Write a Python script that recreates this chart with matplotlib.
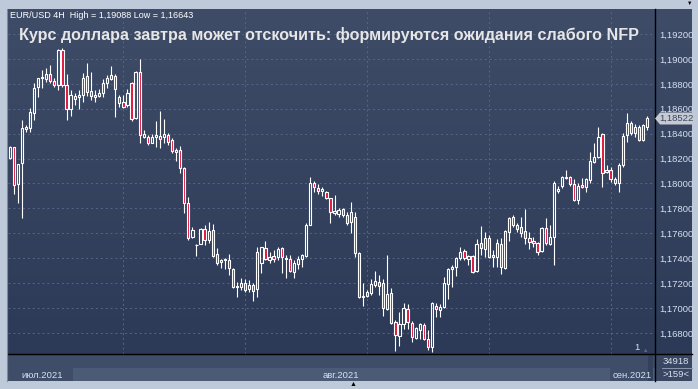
import numpy as np
import matplotlib
matplotlib.use("Agg")
import matplotlib.pyplot as plt
from matplotlib.patches import Rectangle, Polygon

plt.rcParams["font.family"] = ["Liberation Sans", "DejaVu Sans"]

# EUR/USD 4H candles
opens = [
    1.18201, 1.18289, 1.17994, 1.18166, 1.18434, 1.18442, 1.18562, 1.18771, 1.18844, 1.18836,
    1.18879, 1.18822, 1.18790, 1.19072, 1.18788, 1.18595, 1.18675, 1.18691, 1.18710, 1.18863,
    1.18742, 1.18710, 1.18704, 1.18723, 1.18809, 1.18836, 1.18863, 1.18697, 1.18651, 1.18630,
    1.18804, 1.18523, 1.18898, 1.18375, 1.18369, 1.18327, 1.18369, 1.18377, 1.18369, 1.18388,
    1.18348, 1.18254, 1.18268, 1.18120, 1.17839, 1.17571, 1.17504, 1.17517, 1.17630, 1.17549,
    1.17624, 1.17431, 1.17370, 1.17383, 1.17383, 1.17316, 1.17165, 1.17165, 1.17202, 1.17149,
    1.17183, 1.17149, 1.17363, 1.17478, 1.17384, 1.17417, 1.17406, 1.17478, 1.17403, 1.17390,
    1.17291, 1.17352, 1.17390, 1.17417, 1.17666, 1.18001, 1.17961, 1.17942, 1.17934, 1.17880,
    1.17760, 1.17754, 1.17792, 1.17746, 1.17693, 1.17727, 1.17443, 1.17090, 1.17098, 1.17122,
    1.17184, 1.17208, 1.17197, 1.16988, 1.17117, 1.16889, 1.16774, 1.16870, 1.16991, 1.16883,
    1.16755, 1.16822, 1.16862, 1.16747, 1.16688, 1.17015, 1.16983, 1.17004, 1.17192, 1.17310,
    1.17326, 1.17398, 1.17460, 1.17390, 1.17417, 1.17299, 1.17524, 1.17470, 1.17559, 1.17425,
    1.17411, 1.17513, 1.17317, 1.17607, 1.17727, 1.17666, 1.17647, 1.17618, 1.17559, 1.17540,
    1.17518, 1.17459, 1.17639, 1.17513, 1.17572, 1.17942, 1.17979, 1.18041, 1.18048, 1.17995,
    1.17866, 1.17987, 1.17968, 1.18027, 1.18174, 1.18209, 1.18394, 1.18094, 1.18107, 1.18032,
    1.18000, 1.18147, 1.18389, 1.18482, 1.18407, 1.18456, 1.18348, 1.18456,
]
highs = [
    1.18300, 1.18294, 1.18160, 1.18509, 1.18469, 1.18603, 1.18804, 1.18849, 1.18911, 1.18924,
    1.18951, 1.18844, 1.19080, 1.19088, 1.18879, 1.18750, 1.18723, 1.18750, 1.18884, 1.18970,
    1.18897, 1.18750, 1.18758, 1.18836, 1.18870, 1.18943, 1.18881, 1.18710, 1.18710, 1.18756,
    1.18817, 1.18906, 1.18997, 1.18428, 1.18388, 1.18396, 1.18501, 1.18581, 1.18517, 1.18407,
    1.18361, 1.18281, 1.18300, 1.18134, 1.17892, 1.17651, 1.17512, 1.17643, 1.17665, 1.17689,
    1.17673, 1.17485, 1.17397, 1.17402, 1.17431, 1.17322, 1.17210, 1.17237, 1.17229, 1.17224,
    1.17202, 1.17492, 1.17492, 1.17540, 1.17451, 1.17465, 1.17486, 1.17492, 1.17425, 1.17425,
    1.17384, 1.17417, 1.17433, 1.17679, 1.18054, 1.18022, 1.17995, 1.17974, 1.17942, 1.17886,
    1.17907, 1.17800, 1.17800, 1.17773, 1.17848, 1.17773, 1.17451, 1.17197, 1.17143, 1.17229,
    1.17296, 1.17264, 1.17229, 1.17425, 1.17157, 1.16902, 1.16969, 1.17036, 1.17031, 1.16897,
    1.16849, 1.16881, 1.16875, 1.16822, 1.17050, 1.17036, 1.17031, 1.17251, 1.17318, 1.17344,
    1.17411, 1.17492, 1.17470, 1.17425, 1.17425, 1.17551, 1.17658, 1.17612, 1.17585, 1.17465,
    1.17551, 1.17559, 1.17626, 1.17733, 1.17746, 1.17679, 1.17733, 1.17792, 1.17612, 1.17572,
    1.17532, 1.17652, 1.17719, 1.17666, 1.18022, 1.17979, 1.18060, 1.18108, 1.18059, 1.18032,
    1.18000, 1.18040, 1.18040, 1.18255, 1.18322, 1.18456, 1.18402, 1.18147, 1.18129, 1.18048,
    1.18161, 1.18402, 1.18568, 1.18504, 1.18477, 1.18469, 1.18477, 1.18541,
]
lows = [
    1.18193, 1.17914, 1.17839, 1.17724, 1.18412, 1.18415, 1.18509, 1.18696, 1.18763, 1.18817,
    1.18809, 1.18777, 1.18750, 1.18777, 1.18509, 1.18541, 1.18629, 1.18595, 1.18656, 1.18704,
    1.18670, 1.18656, 1.18691, 1.18696, 1.18763, 1.18830, 1.18536, 1.18616, 1.18603, 1.18616,
    1.18504, 1.18515, 1.18322, 1.18361, 1.18308, 1.18321, 1.18294, 1.18286, 1.18321, 1.18308,
    1.18241, 1.18182, 1.18080, 1.17764, 1.17549, 1.17565, 1.17418, 1.17512, 1.17504, 1.17523,
    1.17410, 1.17343, 1.17324, 1.17316, 1.17263, 1.17163, 1.17090, 1.17143, 1.17130, 1.17130,
    1.17058, 1.17090, 1.17277, 1.17384, 1.17363, 1.17371, 1.17384, 1.17277, 1.17237, 1.17291,
    1.17237, 1.17309, 1.17331, 1.17406, 1.17666, 1.17934, 1.17915, 1.17899, 1.17872, 1.17679,
    1.17746, 1.17733, 1.17733, 1.17666, 1.17604, 1.17411, 1.17076, 1.17015, 1.17090, 1.17103,
    1.17165, 1.17103, 1.16934, 1.16983, 1.16870, 1.16656, 1.16693, 1.16827, 1.16827, 1.16728,
    1.16747, 1.16747, 1.16741, 1.16666, 1.16643, 1.16924, 1.16929, 1.16996, 1.17068, 1.17165,
    1.17256, 1.17385, 1.17385, 1.17344, 1.17277, 1.17291, 1.17425, 1.17411, 1.17398, 1.17331,
    1.17325, 1.17272, 1.17309, 1.17540, 1.17652, 1.17612, 1.17572, 1.17513, 1.17470, 1.17492,
    1.17425, 1.17451, 1.17505, 1.17505, 1.17344, 1.17926, 1.17961, 1.18033, 1.17979, 1.17861,
    1.17834, 1.17960, 1.17933, 1.18005, 1.18161, 1.18201, 1.17968, 1.18086, 1.18013, 1.17987,
    1.17933, 1.18134, 1.18335, 1.18389, 1.18375, 1.18343, 1.18343, 1.18429,
]
closes = [
    1.18294, 1.17984, 1.18155, 1.18442, 1.18450, 1.18576, 1.18763, 1.18844, 1.18857, 1.18879,
    1.18820, 1.18788, 1.19072, 1.18790, 1.18595, 1.18710, 1.18702, 1.18710, 1.18844, 1.18731,
    1.18702, 1.18691, 1.18723, 1.18809, 1.18844, 1.18871, 1.18756, 1.18643, 1.18616, 1.18724,
    1.18515, 1.18898, 1.18389, 1.18396, 1.18327, 1.18369, 1.18386, 1.18359, 1.18396, 1.18335,
    1.18262, 1.18268, 1.18120, 1.17844, 1.17563, 1.17624, 1.17509, 1.17638, 1.17549, 1.17616,
    1.17418, 1.17362, 1.17383, 1.17391, 1.17324, 1.17165, 1.17175, 1.17202, 1.17143, 1.17183,
    1.17138, 1.17451, 1.17486, 1.17390, 1.17406, 1.17390, 1.17470, 1.17406, 1.17390, 1.17299,
    1.17363, 1.17390, 1.17425, 1.17666, 1.18006, 1.17969, 1.17942, 1.17953, 1.17880, 1.17773,
    1.17781, 1.17786, 1.17746, 1.17685, 1.17773, 1.17443, 1.17084, 1.17095, 1.17125, 1.17192,
    1.17216, 1.17178, 1.16996, 1.17111, 1.16875, 1.16782, 1.16867, 1.16996, 1.16889, 1.16763,
    1.16835, 1.16870, 1.16747, 1.16683, 1.17036, 1.16988, 1.17004, 1.17197, 1.17310, 1.17331,
    1.17398, 1.17452, 1.17398, 1.17417, 1.17291, 1.17513, 1.17478, 1.17559, 1.17411, 1.17406,
    1.17518, 1.17331, 1.17618, 1.17719, 1.17666, 1.17631, 1.17599, 1.17559, 1.17532, 1.17518,
    1.17451, 1.17639, 1.17518, 1.17572, 1.18006, 1.17953, 1.18054, 1.18054, 1.17995, 1.17866,
    1.17979, 1.17968, 1.18032, 1.18182, 1.18209, 1.18370, 1.18080, 1.18107, 1.18032, 1.18000,
    1.18147, 1.18381, 1.18482, 1.18402, 1.18456, 1.18348, 1.18469, 1.18522,
]

price_ticks = [1.168, 1.170, 1.172, 1.174, 1.176, 1.178, 1.180, 1.182, 1.184, 1.186, 1.188, 1.190, 1.192]
day_pos = [28, 58, 88, 118, 148]
day_labels = ["04", "11", "18", "25", "01"]
last_price = 1.18522

W, H = 698, 389
BG_TOP = "#3f4c68"
BG_BOT = "#2c3a57"
FRAME = "#bec9da"
GRID = "#566684"
LABEL = "#d6e0f0"
RED = "#dc143c"


def fx(x):
    return x / W


def fy(y):
    return 1 - y / H


def rect(fig, x0, y0, x1, y1, color, z=1):
    fig.patches.append(Rectangle((fx(x0), fy(y1)), fx(x1) - fx(x0), fy(y0) - fy(y1),
                                 transform=fig.transFigure, facecolor=color,
                                 edgecolor="none", zorder=z))


def line(fig, x0, y0, x1, y1, color, lw=1.0, z=3):
    fig.lines.append(plt.Line2D([fx(x0), fx(x1)], [fy(y0), fy(y1)],
                                transform=fig.transFigure, color=color, lw=lw, zorder=z))


fig = plt.figure(figsize=(W / 100, H / 100), dpi=100, facecolor=FRAME)

# gradient background behind chart and price scale
bg = fig.add_axes([fx(8), fy(354), fx(692) - fx(8), fy(9) - fy(354)])
grad = np.linspace(0, 1, 256).reshape(-1, 1)
cmap = matplotlib.colors.LinearSegmentedColormap.from_list("bg", [BG_TOP, BG_BOT])
bg.imshow(grad, aspect="auto", cmap=cmap, extent=[0, 1, 0, 1], origin="upper")
bg.set_axis_off()

ax = fig.add_axes([fx(8), fy(354), fx(655) - fx(8), fy(9) - fy(354)])
ax.set_facecolor("none")
ax.set_xlim(-0.42, 158.94)
ax.set_ylim(1.16630, 1.19401)
for s in ax.spines.values():
    s.set_visible(False)

for p in price_ticks:
    ax.axhline(p, color=GRID, lw=0.7, ls=(0, (2, 3)), zorder=1)
for d in day_pos:
    ax.axvline(d, color=GRID, lw=0.7, ls=(0, (2, 3)), zorder=1)

w = 0.55
for i, (o, h, l, c) in enumerate(zip(opens, highs, lows, closes)):
    top, bot = max(o, c), min(o, c)
    ax.vlines(i, top, h, color="white", lw=0.8, zorder=3)
    ax.vlines(i, l, bot, color="white", lw=0.8, zorder=3)
    face = RED if c < o else "none"
    ax.add_patch(Rectangle((i - w / 2, bot), w, max(top - bot, 0.00002),
                           facecolor=face, edgecolor="white", lw=0.8, zorder=4))

ax.yaxis.tick_right()
ax.set_yticks(price_ticks)
ax.set_yticklabels([f"{p:.5f}".replace(".", ",") for p in price_ticks])
ax.tick_params(axis="y", length=0, pad=3, labelsize=6.8, labelcolor=LABEL)
ax.set_xticks(day_pos)
ax.set_xticklabels(day_labels)
ax.tick_params(axis="x", length=0, pad=3.5, labelsize=6.8, labelcolor=LABEL)

# bottom time scale
rect(fig, 8, 354, 692, 368, "#3f4d68")
rect(fig, 8, 368, 692, 381, "#4b5a75")
rect(fig, 8, 368, 73, 381, "#3f4d68")
rect(fig, 610, 368, 648, 381, "#3f4d68")
rect(fig, 648, 355, 653, 381, "#34415c")
rect(fig, 655, 354, 692, 381, "#3a4763")
fig.text(fx(42), fy(375), "июл.2021", color=LABEL, fontsize=6.8, ha="center", va="center")
fig.text(fx(341), fy(375), "авг.2021", color=LABEL, fontsize=6.8, ha="center", va="center")
fig.text(fx(632), fy(375), "сен.2021", color=LABEL, fontsize=6.8, ha="center", va="center")
fig.text(fx(676), fy(362), "34918", color=LABEL, fontsize=6.8, ha="center", va="center")
line(fig, 662, 368, 692, 368, "#8a96ad", lw=0.7)
fig.text(fx(676), fy(374.5), ">159<", color=LABEL, fontsize=6.8, ha="center", va="center")

# separators
line(fig, 655, 9, 655, 381, "black", lw=1.0)
line(fig, 8, 354, 692, 354, "black", lw=1.0)
line(fig, 7.5, 9, 7.5, 381, "#7d8aa3", lw=0.8)

# current price marker
fig.patches.append(Polygon([(fx(655), fy(118.5)), (fx(660), fy(112.5)), (fx(693), fy(112.5)),
                            (fx(693), fy(124.5)), (fx(660), fy(124.5))],
                           closed=True, transform=fig.transFigure,
                           facecolor="#c6cad2", edgecolor="none", zorder=5))
fig.text(fx(659), fy(118.5), f"{last_price:.5f}".replace(".", ","), color="#3a4660",
         fontsize=6.8, ha="left", va="center", zorder=6)

# headers
fig.text(fx(10), fy(15), "EUR/USD 4H  High = 1,19088 Low = 1,16643", color="white",
         fontsize=6.5, ha="left", va="center")
fig.text(fx(19), fy(35), "Курс доллара завтра может отскочить: формируются ожидания слабого NFP",
         color="#e6e6e6", fontsize=11.6, fontweight="bold", ha="left", va="center")

fig.text(fx(637), fy(348), "1", color=LABEL, fontsize=6.8, ha="center", va="center")
fig.text(fx(646), fy(351), "▲", color="#5a6884", fontsize=4, ha="center", va="center")
fig.text(fx(690), fy(3), "▼", color="black", fontsize=4, ha="center", va="center")
fig.text(fx(353), fy(385), "▲", color="black", fontsize=5, ha="center", va="center")

fig.savefig("out.png", dpi=100, facecolor=FRAME)
